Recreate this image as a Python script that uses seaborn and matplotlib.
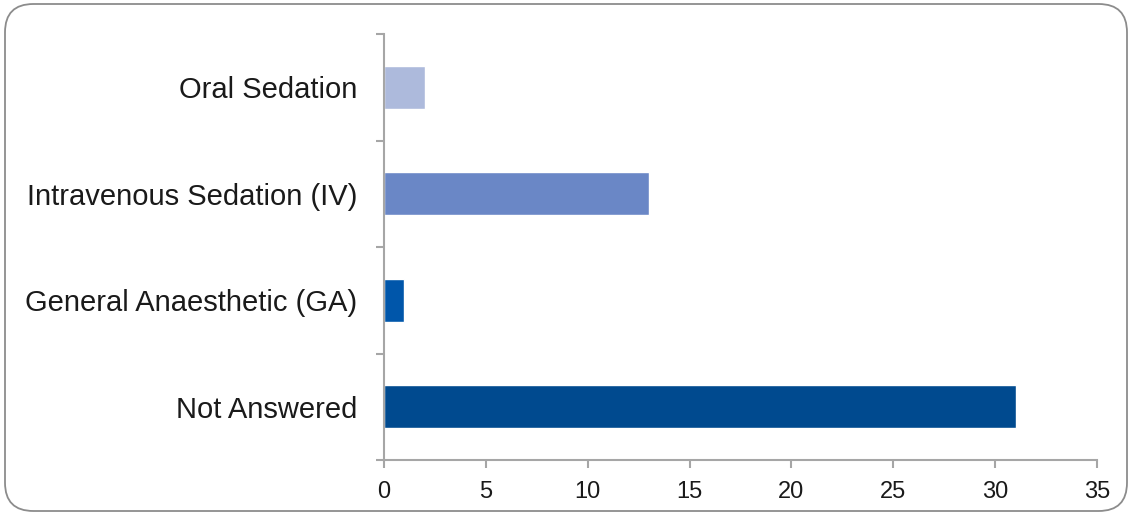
import matplotlib
matplotlib.use("Agg")
import matplotlib.pyplot as plt
from matplotlib.patches import FancyBboxPatch
import seaborn as sns
import pandas as pd

categories = ["Oral Sedation", "Intravenous Sedation (IV)",
              "General Anaesthetic (GA)", "Not Answered"]
counts = [2, 13, 1, 31]
colors = ["#ADBADC", "#6A87C6", "#0056AA", "#004A8F"]
x_ticks = [0, 5, 10, 15, 20, 25, 30, 35]

sns.set_theme(style="white")
plt.rcParams["font.family"] = ["Liberation Sans", "DejaVu Sans"]

df = pd.DataFrame({"category": categories, "count": counts})

fig = plt.figure(figsize=(11.33, 5.15), dpi=100)
W, H = 1133, 515
ax = fig.add_axes([384 / W, 1 - 460 / H, (1097 - 384) / W, (460 - 34) / H])

sns.barplot(data=df, y="category", x="count", hue="category",
            palette=colors, orient="h", width=0.4, ax=ax,
            legend=False, saturation=1)

ax.set_xlim(0, 35)
ax.set_ylim(3.5, -0.5)
ax.set_xticks(x_ticks)
ax.set_xlabel("")
ax.set_ylabel("")

axis_color = "#A6A6A6"
for side in ["top", "right"]:
    ax.spines[side].set_visible(False)
for side in ["left", "bottom"]:
    ax.spines[side].set_color(axis_color)
    ax.spines[side].set_linewidth(1.5)

ax.tick_params(axis="x", which="major", length=6, width=1.5, color=axis_color,
               labelsize=17, labelcolor="#1a1a1a", pad=9, direction="out", bottom=True)
ax.tick_params(axis="y", which="major", length=0, labelsize=21,
               labelcolor="#1a1a1a", pad=19)
ax.set_yticks([-0.5, 0.5, 1.5, 2.5, 3.5], minor=True)
ax.tick_params(axis="y", which="minor", length=6, width=1.5, color=axis_color,
               direction="out", left=True)

border = FancyBboxPatch((5 / W, 4 / H), (1127 - 5) / W, (511 - 4) / H,
                        boxstyle="round,pad=0,rounding_size=0.025",
                        transform=fig.transFigure, facecolor="none",
                        edgecolor="#8C8C8C", linewidth=1.3,
                        mutation_aspect=W / H)
fig.patches.append(border)

fig.savefig("out.png", dpi=100)
